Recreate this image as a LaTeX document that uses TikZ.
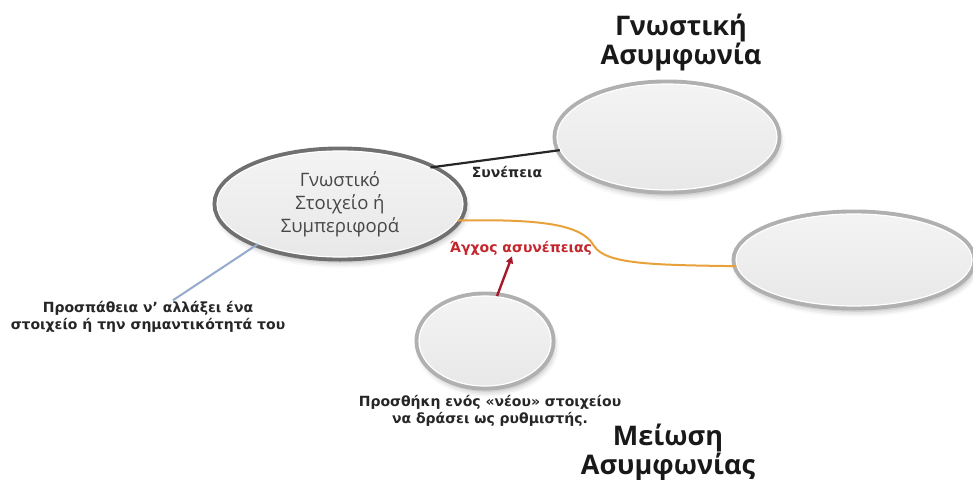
\documentclass[tikz,border=0pt]{standalone}
\usepackage{fontspec}
\setmainfont{Open Sans}
\newfontfamily\labelfont{DejaVu Sans}
\usetikzlibrary{shapes.geometric,shadows.blur,arrows.meta}
\definecolor{rimlight}{HTML}{B0B0B0}
\definecolor{rimdark}{HTML}{707070}
\definecolor{linkorange}{HTML}{E9A23B}
\definecolor{stressred}{HTML}{C4262E}
\definecolor{arrowred}{HTML}{A8182A}
\definecolor{steel}{HTML}{93AACB}
\begin{document}
\begin{tikzpicture}[x=1pt,y=-1pt,
  bubble/.style={ellipse, inner sep=0pt, draw=white, line width=1.2pt,
     top color=gray!9, bottom color=gray!18,
     blur shadow={shadow xshift=2pt, shadow yshift=-5pt, shadow blur radius=6pt, shadow opacity=35},
     preaction={draw=#1, line width=9pt}},
  bubble/.default=rimlight,
  heading/.style={font=\fontsize{27}{29}\selectfont\bfseries, align=center, text=black!90},
  tag/.style={font=\labelfont\bfseries\fontsize{14}{17}\selectfont, align=center, text=black!85, inner sep=1pt},
]
\useasboundingbox (0,0) rectangle (973,479);

% the four bubbles
\node[bubble=rimdark, minimum width=246pt, minimum height=106pt,
      font=\fontsize{18.5}{23}\selectfont, text=black!72, align=center]
      (core) at (340,204) {Γνωστικό\\Στοιχείο ή\\Συμπεριφορά};
\node[bubble, minimum width=220pt, minimum height=106pt] (result) at (667,137) {};
\node[bubble, minimum width=236pt, minimum height=92pt] (cope) at (854,260) {};
\node[bubble, minimum width=132pt, minimum height=90pt] (added) at (485,341) {};

% headings
\node[heading] (titleA) at (681,42) {Γνωστική\\Ασυμφωνία};
\node[heading] (titleB) at (668,452) {Μείωση\\Ασυμφωνίας};

% labels
\node[tag] (conseq) at (507,172) {Συνέπεια};
\node[tag, text=stressred] (anx) at (521,248) {Άγχος ασυνέπειας};
\node[tag] (effort) at (148,317) {Προσπάθεια ν’ αλλάξει ένα\\στοιχείο ή την σημαντικότητά του};
\node[tag] (newel) at (490,411) {Προσθήκη ενός «νέου» στοιχείου\\να δράσει ως ρυθμιστής.};

% connectors
\draw[line width=2.2pt, black!85] (core.22) -- (result.187);
\draw[linkorange, line width=2pt] (core.-8) .. controls (540,219) and (582,224) .. (594,246)
      .. controls (606,264) and (650,265) .. (cope.183);
\draw[arrowred, line width=2.4pt, -{Triangle[length=7pt,width=7pt]}] (added.75) -- ([xshift=-9pt]anx.south);
\draw[steel, line width=2pt] (core.206) -- ([xshift=25pt]effort.north);
\end{tikzpicture}
\end{document}
